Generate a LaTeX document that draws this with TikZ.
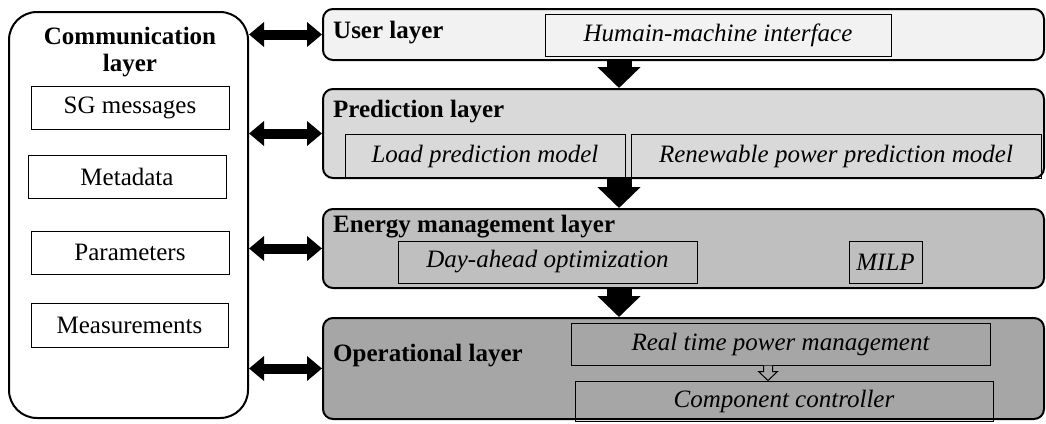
\documentclass[tikz,border=0pt]{standalone}
\usepackage{fontspec}
\setmainfont{Liberation Serif}
\usetikzlibrary{arrows.meta,calc}

\definecolor{userfill}{HTML}{F2F2F2}
\definecolor{predfill}{HTML}{D9D9D9}
\definecolor{energyfill}{HTML}{BFBFBF}
\definecolor{operfill}{HTML}{A6A6A6}

\begin{document}
\begin{tikzpicture}[x=1pt,y=-1pt,
  font=\fontsize{25}{27}\selectfont,
  layer/.style={draw, line width=2pt, rounded corners=10pt, inner sep=0pt},
  item/.style={draw, line width=1pt, inner sep=0pt, font=\fontsize{25}{27}\selectfont\itshape},
  commitem/.style={draw, line width=1pt, inner sep=0pt},
  title/.style={anchor=base west, inner sep=0pt, font=\fontsize{25}{27}\selectfont\bfseries},
  dbl/.style={line width=10pt, {Triangle[width=24pt,length=15pt]}-{Triangle[width=24pt,length=15pt]}},
  down/.style={line width=25pt, -{Triangle[width=42pt,length=21pt]}},
]
\useasboundingbox (0,0) rectangle (1046,423);

% communication layer on the left
\node[draw, line width=2pt, rounded corners=28pt, fill=white, minimum width=239pt, minimum height=406pt, inner sep=0pt] (comm) at (128.5,215) {};
\node[align=center, inner sep=0pt, font=\fontsize{25}{27}\selectfont\bfseries] (commtitle) at (130,52) {Communication\\layer};
\node[commitem, minimum width=198pt, minimum height=43pt] (sg) at (130,107.5) {SG messages};
\node[commitem, minimum width=198pt, minimum height=43pt] (meta) at (127,176.5) {Metadata};
\node[commitem, minimum width=198pt, minimum height=43pt] (param) at (130,252.5) {Parameters};
\node[commitem, minimum width=197pt, minimum height=44pt] (meas) at (129.5,325) {Measurements};

% stacked layers
\node[layer, fill=userfill, minimum width=721pt, minimum height=51pt] (user) at (683.5,34.5) {};
\node[layer, fill=predfill, minimum width=721pt, minimum height=89pt] (pred) at (683.5,133.5) {};
\node[layer, fill=energyfill, minimum width=721pt, minimum height=79pt] (energy) at (683.5,248.5) {};
\node[layer, fill=operfill, minimum width=721pt, minimum height=101pt] (oper) at (683.5,368.5) {};

\node[title] (usert) at (333,38) {User layer};
\node[title] (predt) at (333,117) {Prediction layer};
\node[title] (energyt) at (333,232) {Energy management layer};
\node[title] (opert) at (333,361) {Operational layer};

% components inside the layers
\node[item, minimum width=346pt, minimum height=42pt] (hmi) at (718,35) {Humain-machine interface};
\node[item, minimum width=280pt, minimum height=44pt] (load) at (485,156) {Load prediction model};
\node[item, minimum width=410pt, minimum height=44pt] (renew) at (836,156) {Renewable power prediction model};
\node[item, minimum width=299pt, minimum height=42pt] (day) at (547.5,262) {Day-ahead optimization};
\node[item, minimum width=73pt, minimum height=42pt] (milp) at (885.5,262) {MILP};
\node[item, minimum width=419pt, minimum height=42pt] (rt) at (780.5,344) {Real time power management};
\node[item, minimum width=418pt, minimum height=40pt] (cc) at (784,401) {Component controller};

% exchange with the communication layer
\draw[dbl] (comm.east |- user.west) -- (user.west);
\draw[dbl] (comm.east |- pred.west) -- (pred.west);
\draw[dbl] (comm.east |- energy.west) -- (energy.west);
\draw[dbl] (comm.east |- oper.west) -- (oper.west);

% flow between layers
\coordinate (ax) at (619,0);
\draw[down] (user.south -| ax) -- (pred.north -| ax);
\draw[down] (pred.south -| ax) -- (energy.north -| ax);
\draw[down] (energy.south -| ax) -- (oper.north -| ax);

% small hollow arrow from real time management to the controller
\coordinate (sx) at (768,0);
\draw[line width=1pt, fill=operfill, line join=miter]
  ($(rt.south -| sx)+(-4.5,0)$) -- ++(0,6) -- ++(-5,0) -- (cc.north -| sx)
  -- ($(rt.south -| sx)+(9.5,6)$) -- ++(-5,0) -- ($(rt.south -| sx)+(4.5,0)$);
\end{tikzpicture}
\end{document}
